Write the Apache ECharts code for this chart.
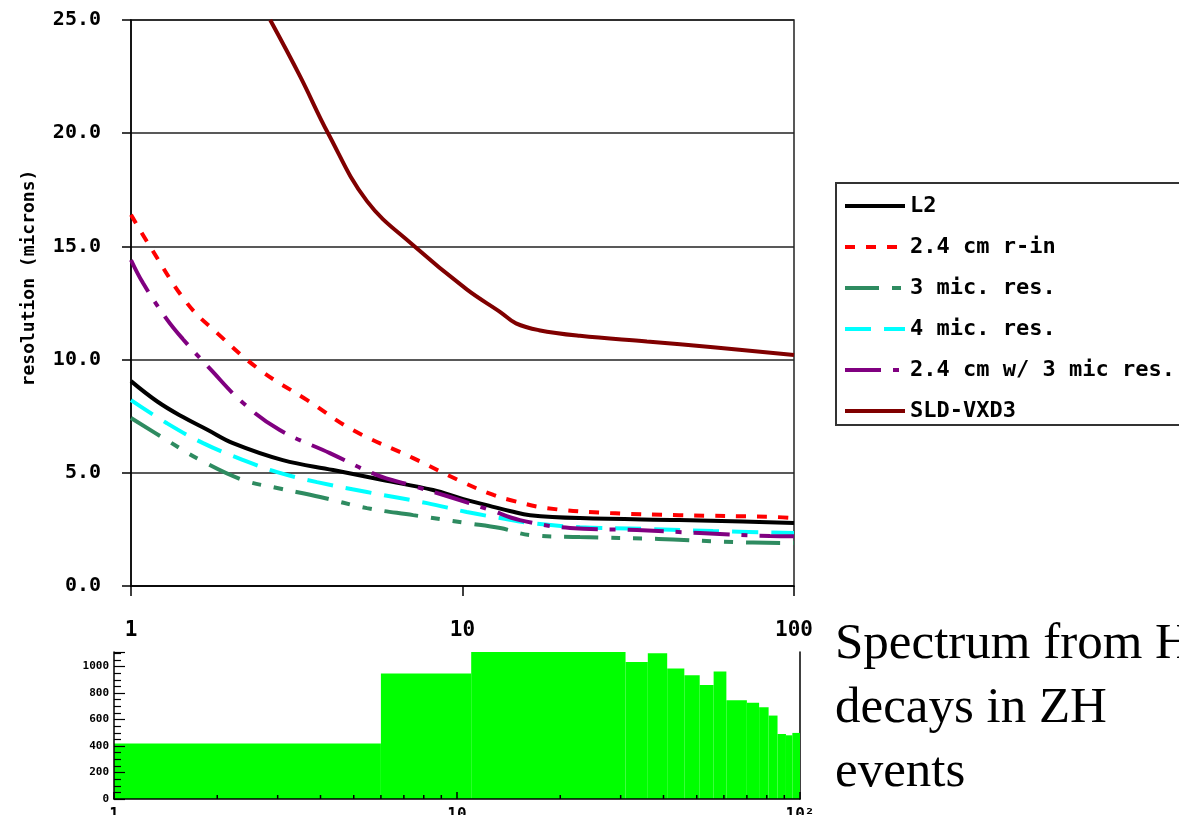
<!DOCTYPE html>
<html><head><meta charset="utf-8">
<script src="https://cdn.jsdelivr.net/npm/echarts@6/dist/echarts.min.js"></script>
<style>html,body{margin:0;padding:0;background:#fff}#c{width:1179px;height:815px}</style>
</head><body><div id="c"></div>
<script>
// ---------- data ----------
const seriesNames = ['L2', '2.4 cm r-in', '3 mic. res.', '4 mic. res.', '2.4 cm w/ 3 mic res.', 'SLD-VXD3'];
const yTickLabels = [0, 5, 10, 15, 20, 25];
const xTickLabels = [1, 10, 100];

const L2 = [[1,9.05],[1.2,8.15],[1.435,7.46],[1.7,6.9],[2.03,6.31],[2.87,5.56],[4.07,5.12],[5.75,4.68],[8.15,4.24],[10,3.85],[12,3.55],[14,3.3],[16,3.13],[22.6,3.0],[45,2.91],[70,2.85],[100,2.78]];
const rIn = [[1,16.4],[1.13,15.1],[1.475,12.5],[1.82,11.17],[2.45,9.54],[3.4,8.21],[4.67,6.89],[7.1,5.65],[10,4.59],[12.4,4.02],[13.9,3.8],[18,3.44],[27.9,3.22],[45,3.13],[86.5,3.05],[100,3.0]];
const mic3 = [[1,7.42],[1.28,6.45],[1.62,5.56],[2.18,4.68],[2.76,4.33],[3.72,3.93],[5.15,3.44],[7.1,3.13],[10.3,2.78],[13,2.56],[16,2.25],[22.6,2.16],[39,2.08],[65.5,1.94],[100,1.9]];
const mic4 = [[1,8.21],[1.28,7.2],[1.65,6.31],[2.18,5.56],[2.76,5.03],[3.64,4.59],[5.15,4.15],[7.82,3.66],[10.3,3.27],[13,3.0],[16,2.78],[22.6,2.6],[36,2.52],[57,2.43],[100,2.34]];
const rIn3mic = [[1,14.4],[1.087,13.38],[1.28,11.8],[1.435,10.9],[1.73,9.6],[2.18,8.08],[2.81,6.89],[3.98,5.87],[5.52,4.9],[6.95,4.46],[9.17,3.93],[12.1,3.36],[14.9,2.91],[21.1,2.56],[33.6,2.47],[52,2.34],[84.6,2.21],[100,2.2]];
const sldVxd3 = [[2.63,25],[3.24,22.5],[3.93,20],[5.15,17.0],[7.1,15.05],[10.3,13.1],[13,12.1],[14.5,11.6],[17,11.3],[22.6,11.05],[36,10.8],[57,10.55],[100,10.2]];

// histogram (spectrum)
const histLo = [1, 6, 11, 31, 36, 41, 46, 51, 56, 61, 70, 76, 81, 86, 91, 95];
const histHi = [6, 11, 31, 36, 41, 46, 51, 56, 61, 70, 76, 81, 86, 91, 95, 100];
const histCounts = [420, 947, 1120, 1035, 1100, 985, 934, 860, 962, 746, 727, 693, 630, 491, 481, 499];
const histMinorTicks = [2,3,4,5,6,7,8,9,20,30,40,50,60,70,80,90];
const histYTicks = [0, 200, 400, 600, 800, 1000];

// ---------- chart ----------
const mono = '"DejaVu Sans Mono", monospace';
const chart = echarts.init(document.getElementById('c'), null, {renderer: 'canvas'});

function lineSeries(name, data, color, type) {
  return {
    name, type: 'line', data, xAxisIndex: 0, yAxisIndex: 0,
    symbol: 'none', smooth: 0.4,
    lineStyle: {color, width: 4, type, cap: 'butt'},
    itemStyle: {color}, z: 3
  };
}

function renderBar(params, api) {
  const a = api.coord([api.value(0), api.value(2)]);
  const b = api.coord([api.value(1), 0]);
  const cs = params.coordSys;
  const rect = echarts.graphic.clipRectByRect(
    {x: a[0], y: a[1], width: b[0] - a[0], height: b[1] - a[1]},
    {x: cs.x, y: cs.y, width: cs.width, height: cs.height});
  return rect && {type: 'rect', shape: rect, style: {fill: '#00ff00'}};
}
function renderMinorTick(params, api) {
  const p = api.coord([api.value(0), 0]);
  return {type: 'line', shape: {x1: p[0], y1: p[1], x2: p[0], y2: p[1] - 4}, style: {stroke: '#000', lineWidth: 1.5}};
}

const option = {
  animation: false,
  backgroundColor: '#fff',
  grid: [
    {left: 131, top: 20, width: 663, height: 566, show: true, borderColor: '#222', borderWidth: 1.5, backgroundColor: 'transparent',
     containLabel: false, outerBoundsMode: 'none'},
    {left: 114, top: 652, width: 686, height: 147, containLabel: false, outerBoundsMode: 'none'}
  ],
  xAxis: [
    {gridIndex: 0, type: 'log', logBase: 10, min: 1, max: 100,
     axisLine: {lineStyle: {color: '#000', width: 1.5}},
     axisTick: {show: true, length: 10, lineStyle: {color: '#000', width: 1.5}},
     axisLabel: {margin: 34, color: '#000', fontFamily: mono, fontWeight: 'bold', fontSize: 21,
       formatter: v => xTickLabels.includes(v) ? String(v) : ''},
     splitLine: {show: false}, minorTick: {show: false}},
    {gridIndex: 1, type: 'log', logBase: 10, min: 1, max: 100, z: 5,
     axisLine: {lineStyle: {color: '#000', width: 1.5}},
     axisTick: {show: true, inside: true, length: 7, lineStyle: {color: '#000', width: 1.5}},
     axisLabel: {margin: 8, color: '#000', fontFamily: mono, fontWeight: 'bold', fontSize: 16,
       formatter: v => v === 100 ? '10²' : String(v)},
     splitLine: {show: false}}
  ],
  yAxis: [
    {gridIndex: 0, type: 'value', min: 0, max: 25, interval: 5,
     axisLine: {show: true, lineStyle: {color: '#000', width: 1.5}},
     axisTick: {show: true, length: 9, lineStyle: {color: '#000', width: 1.5}},
     axisLabel: {margin: 30, color: '#000', fontFamily: mono, fontWeight: 'bold', fontSize: 20,
       formatter: v => yTickLabels.includes(v) ? v.toFixed(1) : ''},
     splitLine: {show: true, lineStyle: {color: '#222', width: 1.5}}},
    {gridIndex: 1, type: 'value', min: 0, max: 1110, interval: 200, z: 5,
     axisLine: {show: true, lineStyle: {color: '#000', width: 1.5}},
     axisTick: {show: true, inside: true, length: 11, lineStyle: {color: '#000', width: 1.2}},
     minorTick: {show: true, splitNumber: 4, length: 7, lineStyle: {color: '#000', width: 1.2}},
     axisLabel: {margin: 5, color: '#000', fontFamily: mono, fontWeight: 'bold', fontSize: 11, showMaxLabel: false,
       formatter: v => histYTicks.includes(v) ? String(v) : ''},
     splitLine: {show: false}},
    {gridIndex: 1, type: 'value', position: 'right', min: 0, max: 1110, z: 0,
     axisLine: {show: true, lineStyle: {color: '#000', width: 1.5}},
     axisTick: {show: false}, axisLabel: {show: false}, splitLine: {show: false}}
  ],
  legend: {
    data: seriesNames, orient: 'vertical', left: 843, top: 195,
    itemWidth: 60, itemHeight: 21, itemGap: 19, padding: 0,
    itemStyle: {opacity: 0},
    lineStyle: {width: 4},
    textStyle: {color: '#000', fontFamily: mono, fontWeight: 'bold', fontSize: 22}
  },
  graphic: [
    {type: 'rect', shape: {x: 836, y: 183, width: 360, height: 242}, style: {fill: 'none', stroke: '#333', lineWidth: 2}},
    {type: 'text', x: 29, y: 278, rotation: Math.PI / 2,
     style: {text: 'resolution (microns)', font: 'bold 18px "DejaVu Sans Mono"', textAlign: 'center', textVerticalAlign: 'middle', fill: '#000'}},
    {type: 'text', x: 835, y: 613,
     style: {text: 'Spectrum from H\ndecays in ZH\nevents', font: '51px "Liberation Serif"', lineHeight: 64, fill: '#000'}}
  ],
  series: [
    lineSeries(seriesNames[0], L2, '#000000', 'solid'),
    lineSeries(seriesNames[1], rIn, '#ff0000', [10, 11]),
    lineSeries(seriesNames[2], mic3, '#2e8b60', [34, 13, 9, 13, 9, 13]),
    lineSeries(seriesNames[3], mic4, '#00ffff', [26, 13]),
    lineSeries(seriesNames[4], rIn3mic, '#800080', [36, 12, 6, 12]),
    lineSeries(seriesNames[5], sldVxd3, '#800000', 'solid'),
    {type: 'custom', name: 'spectrum', xAxisIndex: 1, yAxisIndex: 1, renderItem: renderBar, z: 2,
     encode: {x: [0, 1], y: 2}, data: histLo.map((lo, i) => [lo, histHi[i], histCounts[i]])},
    {type: 'custom', name: 'minorTicks', xAxisIndex: 1, yAxisIndex: 1, renderItem: renderMinorTick, z: 6,
     encode: {x: 0, y: 1}, data: histMinorTicks.map(v => [v, 0])}
  ]
};
chart.setOption(option);
</script>
</body></html>
